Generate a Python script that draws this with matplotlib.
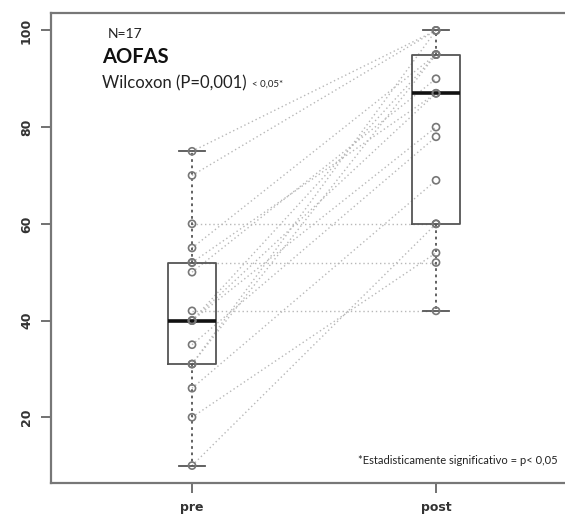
import matplotlib
matplotlib.use("Agg")
import matplotlib.pyplot as plt

groups = ["pre", "post"]
pre = [75, 70, 60, 55, 52, 52, 50, 42, 40, 40, 40, 35, 31, 31, 26, 20, 10]
post = [100, 100, 60, 95, 52, 87, 90, 42, 95, 87, 80, 78, 100, 95, 69, 54, 60]
yticks = [20, 40, 60, 80, 100]

fig = plt.figure(figsize=(5.65, 5.21), dpi=100)
ax = fig.add_axes([51 / 565, 38 / 521, 1 - 51 / 565, 470 / 521])

# paired lines
for a, b in zip(pre, post):
    ax.plot([1, 2], [a, b], color="#b8b8b8", lw=1.0, ls=(0, (1, 2)), zorder=1)

bp = ax.boxplot([pre, post], positions=[1, 2], widths=0.2, whis=(0, 100),
                patch_artist=False, showfliers=False,
                boxprops=dict(color="#555555", lw=1.3),
                whiskerprops=dict(color="#555555", lw=1.3, ls=(0, (1.5, 2))),
                capprops=dict(color="#555555", lw=1.3),
                medianprops=dict(color="#111111", lw=2.6))
for c in bp["caps"]:
    x0, x1 = c.get_xdata()
    m = (x0 + x1) / 2
    c.set_xdata([m - 0.053, m + 0.053])

for i, vals in enumerate([pre, post]):
    ax.scatter([i + 1] * len(vals), vals, s=26, facecolors="none",
               edgecolors="#777777", linewidths=1.2, zorder=3)

ax.set_xlim(0.422, 0.422 + 514 / 244)
ax.set_ylim(6.4, 103.6)
ax.set_xticks([1, 2])
ax.set_xticklabels(groups, fontsize=9, fontweight="bold", color="#333333")
ax.set_yticks(yticks)
ax.set_yticklabels([str(v) for v in yticks], rotation=90, va="center",
                   fontsize=9, fontweight="bold", color="#333333")
ax.tick_params(length=7, width=1.3, color="#666666", pad=6)
for s in ["left", "bottom", "top"]:
    ax.spines[s].set_color("#777777")
    ax.spines[s].set_linewidth(1.6)
ax.spines["right"].set_visible(False)

fig.text(108 / 565, 1 - 34 / 521, "N=17", fontsize=10, family="Lato",
         color="#222222", va="center")
fig.text(102 / 565, 1 - 57 / 521, "AOFAS", fontsize=14.5, fontweight="bold",
         family="Lato", color="#111111", va="center")
fig.text(102 / 565, 1 - 83 / 521, "Wilcoxon (P=0,001)", fontsize=12,
         family="Lato", color="#222222", va="center")
fig.text(252 / 565, 1 - 84 / 521, "< 0,05*", fontsize=7,
         family="Lato", color="#222222", va="center")
fig.text(358 / 565, 1 - 460 / 521, "*Estadisticamente significativo = p< 0,05",
         fontsize=8, family="Lato", color="#222222", va="center")

fig.savefig("out.png", dpi=100)
